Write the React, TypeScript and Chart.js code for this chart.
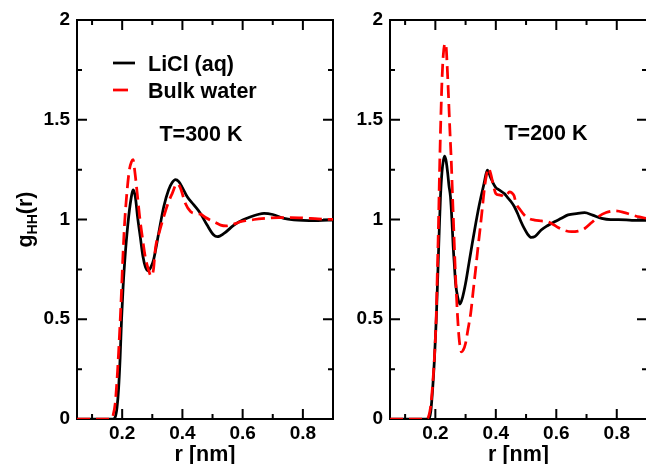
import React, { useEffect, useRef } from "react";
import { Chart, registerables } from "chart.js";

Chart.register(...registerables);

const FONT = '"Liberation Sans", Arial, Helvetica, sans-serif';

// ---- T = 300 K ----
const r300Licl = [0.05, 0.10, 0.15, 0.170, 0.177, 0.183, 0.188, 0.193, 0.198, 0.203, 0.208, 0.216, 0.227, 0.237, 0.244, 0.251, 0.260, 0.269, 0.277, 0.286, 0.295, 0.304, 0.321, 0.338, 0.354, 0.366, 0.377, 0.388, 0.400, 0.416, 0.438, 0.460, 0.482, 0.504, 0.516, 0.538, 0.571, 0.600, 0.627, 0.650, 0.671, 0.700, 0.737, 0.770, 0.800, 0.850, 0.900];
const g300Licl = [0, 0, 0, 0, 0.01, 0.06, 0.15, 0.30, 0.50, 0.66, 0.78, 0.93, 1.08, 1.148, 1.11, 1.014, 0.914, 0.814, 0.763, 0.743, 0.76, 0.797, 0.93, 1.064, 1.148, 1.185, 1.20, 1.19, 1.16, 1.114, 1.073, 1.03, 0.972, 0.922, 0.914, 0.93, 0.972, 0.997, 1.014, 1.025, 1.031, 1.025, 1.006, 0.998, 0.995, 0.994, 0.998];

const r300Bulk = [0.05, 0.10, 0.15, 0.163, 0.170, 0.177, 0.183, 0.188, 0.193, 0.198, 0.202, 0.208, 0.216, 0.224, 0.231, 0.236, 0.242, 0.250, 0.258, 0.268, 0.277, 0.287, 0.296, 0.304, 0.310, 0.324, 0.338, 0.352, 0.366, 0.382, 0.393, 0.410, 0.427, 0.445, 0.460, 0.477, 0.493, 0.510, 0.527, 0.545, 0.560, 0.577, 0.593, 0.615, 0.638, 0.682, 0.720, 0.760, 0.800, 0.850, 0.900];
const g300Bulk = [0, 0, 0, 0, 0.02, 0.08, 0.20, 0.33, 0.48, 0.65, 0.80, 0.98, 1.14, 1.25, 1.29, 1.30, 1.24, 1.13, 1.014, 0.90, 0.81, 0.75, 0.717, 0.75, 0.85, 0.94, 1.014, 1.08, 1.13, 1.18, 1.16, 1.08, 1.04, 1.03, 1.027, 1.01, 0.997, 0.985, 0.972, 0.968, 0.972, 0.98, 0.989, 0.995, 1.0, 1.006, 1.01, 1.01, 1.008, 1.003, 1.0];

// ---- T = 200 K ----
const r200Licl = [0.05, 0.10, 0.15, 0.172, 0.179, 0.185, 0.191, 0.197, 0.203, 0.208, 0.213, 0.217, 0.222, 0.227, 0.231, 0.236, 0.241, 0.245, 0.250, 0.255, 0.259, 0.263, 0.267, 0.274, 0.281, 0.290, 0.300, 0.311, 0.322, 0.333, 0.344, 0.352, 0.361, 0.372, 0.383, 0.392, 0.400, 0.411, 0.428, 0.439, 0.450, 0.461, 0.472, 0.483, 0.494, 0.505, 0.517, 0.530, 0.550, 0.572, 0.594, 0.617, 0.639, 0.667, 0.694, 0.720, 0.750, 0.780, 0.806, 0.850, 0.900];
const g200Licl = [0, 0, 0, 0, 0, 0.04, 0.15, 0.30, 0.50, 0.72, 0.95, 1.114, 1.24, 1.30, 1.318, 1.29, 1.23, 1.17, 1.114, 0.99, 0.864, 0.77, 0.68, 0.61, 0.576, 0.61, 0.68, 0.78, 0.88, 0.975, 1.064, 1.12, 1.18, 1.248, 1.21, 1.18, 1.16, 1.148, 1.13, 1.11, 1.09, 1.065, 1.03, 0.99, 0.955, 0.927, 0.91, 0.915, 0.947, 0.97, 0.989, 1.006, 1.023, 1.03, 1.034, 1.022, 1.006, 1.0, 1.0, 0.996, 0.995];

const r200Bulk = [0.05, 0.10, 0.15, 0.172, 0.179, 0.185, 0.191, 0.197, 0.203, 0.206, 0.210, 0.214, 0.218, 0.222, 0.226, 0.230, 0.233, 0.236, 0.240, 0.244, 0.248, 0.253, 0.257, 0.261, 0.265, 0.270, 0.274, 0.278, 0.282, 0.286, 0.292, 0.300, 0.308, 0.317, 0.325, 0.333, 0.341, 0.350, 0.357, 0.363, 0.370, 0.376, 0.383, 0.392, 0.400, 0.411, 0.420, 0.428, 0.437, 0.445, 0.452, 0.460, 0.467, 0.480, 0.494, 0.510, 0.528, 0.550, 0.572, 0.590, 0.606, 0.628, 0.650, 0.672, 0.694, 0.717, 0.739, 0.765, 0.794, 0.822, 0.850, 0.875, 0.900];
const g200Bulk = [0, 0, 0, 0, 0.02, 0.07, 0.17, 0.31, 0.52, 0.70, 0.95, 1.25, 1.50, 1.70, 1.82, 1.875, 1.883, 1.86, 1.74, 1.60, 1.45, 1.28, 1.11, 0.947, 0.78, 0.613, 0.50, 0.413, 0.36, 0.337, 0.345, 0.38, 0.45, 0.53, 0.64, 0.747, 0.86, 0.98, 1.08, 1.164, 1.23, 1.257, 1.23, 1.17, 1.13, 1.123, 1.12, 1.114, 1.125, 1.138, 1.135, 1.12, 1.081, 1.05, 1.023, 1.005, 0.997, 0.993, 0.989, 0.975, 0.96, 0.945, 0.939, 0.942, 0.955, 0.985, 1.014, 1.035, 1.043, 1.036, 1.023, 1.013, 1.005];

// ---- axes ----
const xMin = 0.05;
const xMax = 0.9;
const xTickValues = [0.1, 0.2, 0.3, 0.4, 0.5, 0.6, 0.7, 0.8];
const xMajorTicks = [0.2, 0.4, 0.6, 0.8];
const xTickLabels = ["0.2", "0.4", "0.6", "0.8"];
const yMin = 0;
const yMax = 2;
const yTickValues = [0, 0.25, 0.5, 0.75, 1, 1.25, 1.5, 1.75, 2];
const yMajorTicks = [0, 0.5, 1, 1.5, 2];
const yTickLabels = ["0", "0.5", "1", "1.5", "2"];

const seriesNames = ["LiCl (aq)", "Bulk water"];
const seriesColors = ["#000000", "#ff0000"];
const tempLabels = ["T=300 K", "T=200 K"];
const xTitle = "r [nm]";

const pts = (xs: number[], ys: number[]) => xs.map((x, i) => ({ x, y: ys[i] }));
const near = (a: number, b: number) => Math.abs(a - b) < 1e-6;

const decorPlugin = {
  id: "decor",
  beforeDatasetsDraw(chart: any) {
    const { ctx, chartArea: a, scales } = chart;
    const xs = scales.x;
    const ys = scales.y;
    ctx.save();
    ctx.strokeStyle = "#000";
    ctx.setLineDash([]);
    ctx.lineCap = "butt";
    ctx.lineWidth = 2;
    ctx.strokeRect(a.left, a.top, a.right - a.left, a.bottom - a.top);
    ctx.beginPath();
    xTickValues.forEach((v) => {
      const len = xMajorTicks.some((m) => near(m, v)) ? 10 : 5;
      const px = xs.getPixelForValue(v);
      ctx.moveTo(px, a.bottom);
      ctx.lineTo(px, a.bottom - len);
      ctx.moveTo(px, a.top);
      ctx.lineTo(px, a.top + len);
    });
    yTickValues.forEach((v) => {
      const len = yMajorTicks.some((m) => near(m, v)) ? 10 : 5;
      const py = ys.getPixelForValue(v);
      ctx.moveTo(a.left, py);
      ctx.lineTo(a.left + len, py);
      ctx.moveTo(a.right, py);
      ctx.lineTo(a.right - len, py);
    });
    ctx.stroke();
    ctx.restore();
  },
  afterDatasetsDraw(chart: any, _args: any, opts: any) {
    const { ctx, chartArea: a } = chart;
    ctx.save();
    ctx.fillStyle = "#000";
    // x title
    ctx.font = `bold 21.5px ${FONT}`;
    ctx.textAlign = "center";
    ctx.textBaseline = "alphabetic";
    ctx.fillText(xTitle, (a.left + a.right) / 2, 461);

    // temperature label
    ctx.fillText(opts.temp, opts.tempX, opts.tempY);

    if (opts.legend) {
      const lx0 = 113, lx1 = 135;
      const rows = [63, 90];
      ctx.lineWidth = 2.75;
      rows.forEach((ry, i) => {
        ctx.strokeStyle = seriesColors[i];
        ctx.setLineDash(i === 1 ? [15, 7] : []);
        ctx.beginPath();
        ctx.moveTo(lx0, ry);
        ctx.lineTo(lx1, ry);
        ctx.stroke();
      });
      ctx.setLineDash([]);
      ctx.textAlign = "left";
      ctx.fillStyle = "#000";
      ctx.fillText(seriesNames[0], 148, 71);
      ctx.fillText(seriesNames[1], 148, 97.5);
    }

    if (opts.yTitle) {
      const main = `bold 21.5px ${FONT}`;
      const sub = `bold 14px ${FONT}`;
      ctx.font = main;
      const wg = ctx.measureText("g").width;
      const wr = ctx.measureText("(r)").width;
      ctx.font = sub;
      const wh = ctx.measureText("HH").width;
      const total = wg + wh + wr;
      const cy = (a.top + a.bottom) / 2;
      ctx.translate(32, cy);
      ctx.rotate(-Math.PI / 2);
      ctx.textAlign = "left";
      ctx.textBaseline = "alphabetic";
      let x = -total / 2;
      ctx.font = main;
      ctx.fillText("g", x, 0);
      x += wg;
      ctx.font = sub;
      ctx.fillText("HH", x, 5);
      x += wh;
      ctx.font = main;
      ctx.fillText("(r)", x, 0);
    }
    ctx.restore();
  },
};

function Panel(props: {
  left: number;
  width: number;
  yAxisWidth: number;
  padRight: number;
  rLicl: number[];
  gLicl: number[];
  rBulk: number[];
  gBulk: number[];
  temp: string;
  tempX: number;
  tempY: number;
  legend: boolean;
  yTitle: boolean;
}) {
  const ref = useRef<HTMLCanvasElement | null>(null);
  useEffect(() => {
    if (!ref.current) return;
    const chart = new Chart(ref.current, {
      type: "line",
      data: {
        datasets: [
          {
            label: seriesNames[0],
            data: pts(props.rLicl, props.gLicl),
            borderColor: seriesColors[0],
            borderWidth: 2.75,
            pointRadius: 0,
            fill: false,
            cubicInterpolationMode: "monotone",
            order: 2,
          },
          {
            label: seriesNames[1],
            data: pts(props.rBulk, props.gBulk),
            borderColor: seriesColors[1],
            borderWidth: 2.75,
            borderDash: [13, 6],
            pointRadius: 0,
            fill: false,
            cubicInterpolationMode: "monotone",
            order: 1,
          },
        ],
      },
      options: {
        animation: false,
        responsive: false,
        devicePixelRatio: 1,
        layout: { padding: { left: 0, right: props.padRight, top: 20, bottom: 0 } },
        plugins: {
          legend: { display: false },
          tooltip: { enabled: false },
          decor: {
            temp: props.temp,
            tempX: props.tempX,
            tempY: props.tempY,
            legend: props.legend,
            yTitle: props.yTitle,
          },
        } as any,
        scales: {
          x: {
            type: "linear",
            min: xMin,
            max: xMax,
            grid: { display: false, drawTicks: false },
            border: { display: false },
            afterBuildTicks: (s: any) => {
              s.ticks = xTickValues.map((v) => ({ value: v }));
            },
            afterFit: (s: any) => {
              s.height = 45;
            },
            ticks: {
              autoSkip: false,
              maxRotation: 0,
              padding: 3,
              color: "#000",
              font: { family: FONT, size: 19, weight: "bold" },
              callback: (v: any) => {
                const i = xMajorTicks.findIndex((m) => near(m, Number(v)));
                return i >= 0 ? xTickLabels[i] : "";
              },
            },
          },
          y: {
            type: "linear",
            min: yMin,
            max: yMax,
            grid: { display: false, drawTicks: false },
            border: { display: false },
            afterBuildTicks: (s: any) => {
              s.ticks = yTickValues.map((v) => ({ value: v }));
            },
            afterFit: (s: any) => {
              s.width = props.yAxisWidth;
            },
            ticks: {
              autoSkip: false,
              padding: 7,
              color: "#000",
              font: { family: FONT, size: 19, weight: "bold" },
              callback: (v: any) => {
                const i = yMajorTicks.findIndex((m) => near(m, Number(v)));
                return i >= 0 ? yTickLabels[i] : "";
              },
            },
          },
        },
      },
      plugins: [decorPlugin as any],
    });
    return () => chart.destroy();
  }, []);
  return (
    <canvas
      ref={ref}
      width={props.width}
      height={464}
      style={{ position: "absolute", left: props.left, top: 0, width: props.width, height: 464 }}
    />
  );
}

export default function App() {
  return (
    <div
      style={{
        position: "absolute",
        left: 0,
        top: 0,
        width: 646,
        height: 464,
        overflow: "hidden",
        background: "#ffffff",
      }}
    >
      <Panel
        left={0}
        width={340}
        yAxisWidth={77}
        padRight={7}
        rLicl={r300Licl}
        gLicl={g300Licl}
        rBulk={r300Bulk}
        gBulk={g300Bulk}
        temp={tempLabels[0]}
        tempX={201}
        tempY={141}
        legend={true}
        yTitle={true}
      />
      <Panel
        left={340}
        width={310}
        yAxisWidth={50}
        padRight={3}
        rLicl={r200Licl}
        gLicl={g200Licl}
        rBulk={r200Bulk}
        gBulk={g200Bulk}
        temp={tempLabels[1]}
        tempX={206}
        tempY={140}
        legend={false}
        yTitle={false}
      />
    </div>
  );
}
